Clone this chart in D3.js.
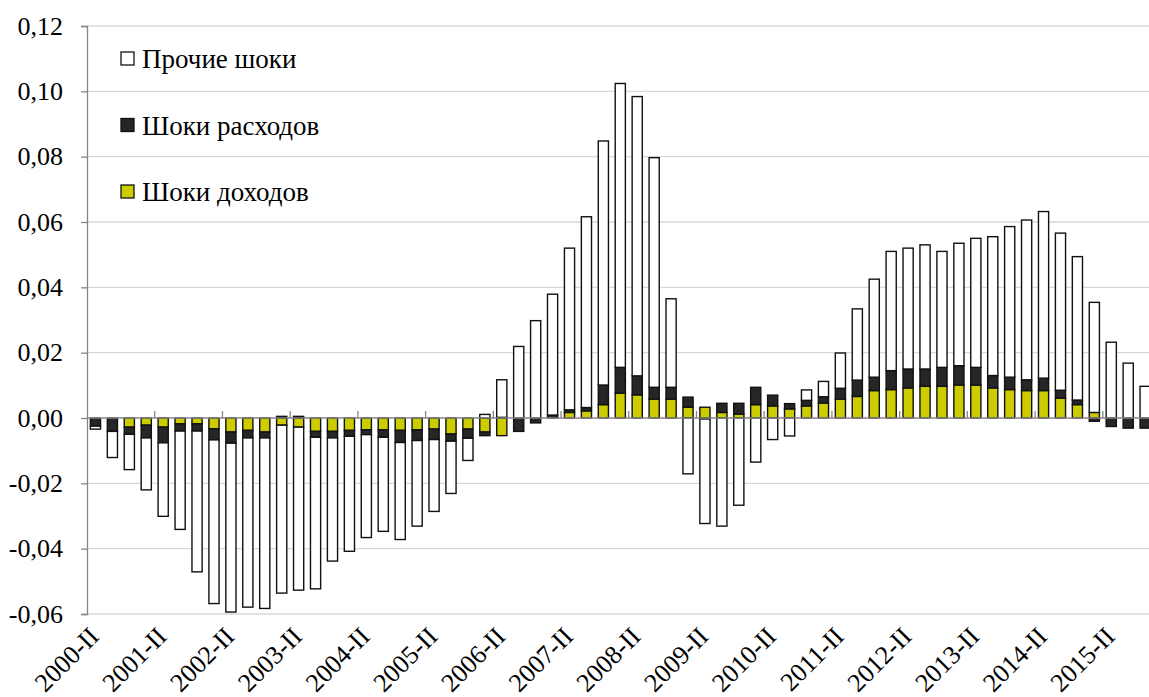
<!DOCTYPE html>
<html>
<head>
<meta charset="utf-8">
<script src="https://cdn.jsdelivr.net/npm/d3@7"></script>
<style>
  html, body { margin: 0; padding: 0; background: #fff; }
  svg { display: block; }
</style>
</head>
<body>
<svg id="chart" width="1149" height="697"></svg>
<script>
// ---- DATA ----
const categories = [
  "2000-II","2000-III","2000-IV","2001-I","2001-II","2001-III","2001-IV","2002-I",
  "2002-II","2002-III","2002-IV","2003-I","2003-II","2003-III","2003-IV","2004-I",
  "2004-II","2004-III","2004-IV","2005-I","2005-II","2005-III","2005-IV","2006-I",
  "2006-II","2006-III","2006-IV","2007-I","2007-II","2007-III","2007-IV","2008-I",
  "2008-II","2008-III","2008-IV","2009-I","2009-II","2009-III","2009-IV","2010-I",
  "2010-II","2010-III","2010-IV","2011-I","2011-II","2011-III","2011-IV","2012-I",
  "2012-II","2012-III","2012-IV","2013-I","2013-II","2013-III","2013-IV","2014-I",
  "2014-II","2014-III","2014-IV","2015-I","2015-II","2015-III","2015-IV"
];
const tickLabels = ["2000-II","2001-II","2002-II","2003-II","2004-II","2005-II","2006-II","2007-II",
  "2008-II","2009-II","2010-II","2011-II","2012-II","2013-II","2014-II","2015-II"];
const seriesNames = ["Шоки доходов", "Шоки расходов", "Прочие шоки"];
const incomeShocks = [
  0, 0, -0.0028, -0.0022, -0.0028, -0.0018, -0.0018, -0.0033,
  -0.0043, -0.0038, -0.0043, -0.0022, -0.0028, -0.0041, -0.0041, -0.0038,
  -0.0036, -0.0036, -0.0038, -0.0036, -0.0034, -0.0049, -0.0034, -0.0043,
  -0.0054, 0, 0, 0, 0.0017, 0.0022, 0.0041, 0.0076,
  0.0071, 0.0058, 0.0058, 0.0033, 0.0033, 0.0017, 0.0012, 0.0041,
  0.0037, 0.0028, 0.0037, 0.0046, 0.0058, 0.0066, 0.0084, 0.0087,
  0.0092, 0.0097, 0.0097, 0.0101, 0.0101, 0.0092, 0.0087, 0.0084,
  0.0084, 0.0061, 0.0041, 0.0017, 0, 0, 0
];
const expenseShocks = [
  -0.0025, -0.0041, -0.0022, -0.0039, -0.0048, -0.0022, -0.0022, -0.0034,
  -0.0034, -0.0023, -0.0018, 0.0005, 0.0005, -0.0018, -0.0020, -0.0018,
  -0.0015, -0.0023, -0.0037, -0.0033, -0.0032, -0.0022, -0.0028, -0.0011,
  0.0002, -0.0041, -0.0015, 0.0009, 0.0008, 0.0010, 0.0060, 0.0079,
  0.0058, 0.0036, 0.0036, 0.0031, -0.0003, 0.0028, 0.0033, 0.0053,
  0.0033, 0.0016, 0.0017, 0.0019, 0.0033, 0.0050, 0.0041, 0.0058,
  0.0058, 0.0053, 0.0058, 0.0059, 0.0054, 0.0038, 0.0038, 0.0033,
  0.0038, 0.0024, 0.0014, -0.0010, -0.0026, -0.0031, -0.0031
];
const otherShocks = [
  -0.0009, -0.0080, -0.0108, -0.0159, -0.0225, -0.0301, -0.0431, -0.0501,
  -0.0517, -0.0518, -0.0522, -0.0514, -0.0499, -0.0464, -0.0377, -0.0352,
  -0.0315, -0.0288, -0.0297, -0.0262, -0.0220, -0.0160, -0.0068, 0.0011,
  0.0115, 0.0219, 0.0298, 0.0370, 0.0495, 0.0584, 0.0747, 0.0869,
  0.0855, 0.0703, 0.0271, -0.0171, -0.0320, -0.0331, -0.0267, -0.0135,
  -0.0066, -0.0055, 0.0032, 0.0047, 0.0108, 0.0218, 0.0300, 0.0365,
  0.0370, 0.0380, 0.0355, 0.0375, 0.0395, 0.0425, 0.0461, 0.0489,
  0.0510, 0.0481, 0.0439, 0.0337, 0.0232, 0.0168, 0.0097
];
const yTicks = [-0.06, -0.04, -0.02, 0, 0.02, 0.04, 0.06, 0.08, 0.10, 0.12];

// ---- LAYOUT ----
const svg = d3.select("#chart");
const plotLeft = 87, plotTop = 26, plotBottom = 614, step = 16.93;
const plotRight = plotLeft + categories.length * step;
const colors = {"Шоки доходов": "#CCCC00", "Шоки расходов": "#262626", "Прочие шоки": "#FFFFFF"};
const font = "'Liberation Serif'";

const x = d3.scaleBand().domain(categories).range([plotLeft, plotRight]).padding(0);
const y = d3.scaleLinear().domain([-0.06, 0.12]).range([plotBottom, plotTop]);
const barW = x.bandwidth() * 0.6;

// gridlines
svg.append("g").selectAll("line").data(yTicks.filter(d => d !== 0)).join("line")
  .attr("x1", plotLeft).attr("x2", 1149)
  .attr("y1", d => y(d)).attr("y2", d => y(d))
  .attr("stroke", "#d9d9d9").attr("stroke-width", 1.3);

// y axis
const yAxis = d3.axisLeft(y).tickValues(yTicks).tickSize(6).tickPadding(18)
  .tickFormat(d => d3.format(".2f")(d).replace(".", ",").replace("−", "-"));
const gy = svg.append("g").attr("transform", `translate(${plotLeft},0)`).call(yAxis);
gy.attr("font-family", null).attr("font-size", null);
gy.select(".domain").attr("stroke", "#868686").attr("stroke-width", 1.3);
gy.selectAll(".tick line").attr("stroke", "#868686").attr("stroke-width", 1.3);
gy.selectAll(".tick text").style("font-family", font).style("font-size", "26px").attr("fill", "#000");

// stacked bars
const rows = categories.map((c, i) => ({
  cat: c,
  "Шоки доходов": incomeShocks[i],
  "Шоки расходов": expenseShocks[i],
  "Прочие шоки": otherShocks[i]
}));
const stack = d3.stack().keys(seriesNames).offset(d3.stackOffsetDiverging);
const layers = stack(rows);

svg.append("g").selectAll("g").data(layers).join("g")
  .attr("fill", d => colors[d.key])
  .selectAll("rect").data(d => d).join("rect")
  .attr("x", d => x(d.data.cat) + (x.bandwidth() - barW) / 2)
  .attr("width", barW)
  .attr("y", d => y(Math.max(d[0], d[1])))
  .attr("height", d => Math.abs(y(d[0]) - y(d[1])))
  .attr("stroke", "#111").attr("stroke-width", 1.4);

// category axis at zero
const zeroY = y(0);
svg.append("line").attr("x1", plotLeft).attr("x2", 1149).attr("y1", zeroY).attr("y2", zeroY)
  .attr("stroke", "#868686").attr("stroke-width", 1.5);
const tickCats = categories.filter((c, i) => i % 4 === 0 && i > 0);
svg.append("g").selectAll("line").data(tickCats).join("line")
  .attr("x1", d => x(d)).attr("x2", d => x(d))
  .attr("y1", zeroY).attr("y2", zeroY - 7)
  .attr("stroke", "#868686").attr("stroke-width", 1.3);

// category labels (rotated)
svg.append("g").selectAll("text").data(tickLabels).join("text")
  .attr("transform", d => `translate(${x(d) + x.bandwidth() / 2 + 5},${plotBottom + 24}) rotate(-45)`)
  .attr("text-anchor", "end")
  .style("font-family", font).style("font-size", "26px").attr("fill", "#000")
  .text(d => d);

// legend
const legendItems = ["Прочие шоки", "Шоки расходов", "Шоки доходов"];
const lg = svg.append("g").selectAll("g").data(legendItems).join("g")
  .attr("transform", (d, i) => `translate(121,${58.5 + i * 66.5})`);
lg.append("rect").attr("x", 0).attr("y", -6.5).attr("width", 13).attr("height", 13)
  .attr("fill", d => colors[d]).attr("stroke", "#111").attr("stroke-width", 1.3);
lg.append("text").attr("x", 21).attr("y", 9.5)
  .style("font-family", font).style("font-size", "27px").attr("fill", "#000")
  .text(d => d);
</script>
</body>
</html>
